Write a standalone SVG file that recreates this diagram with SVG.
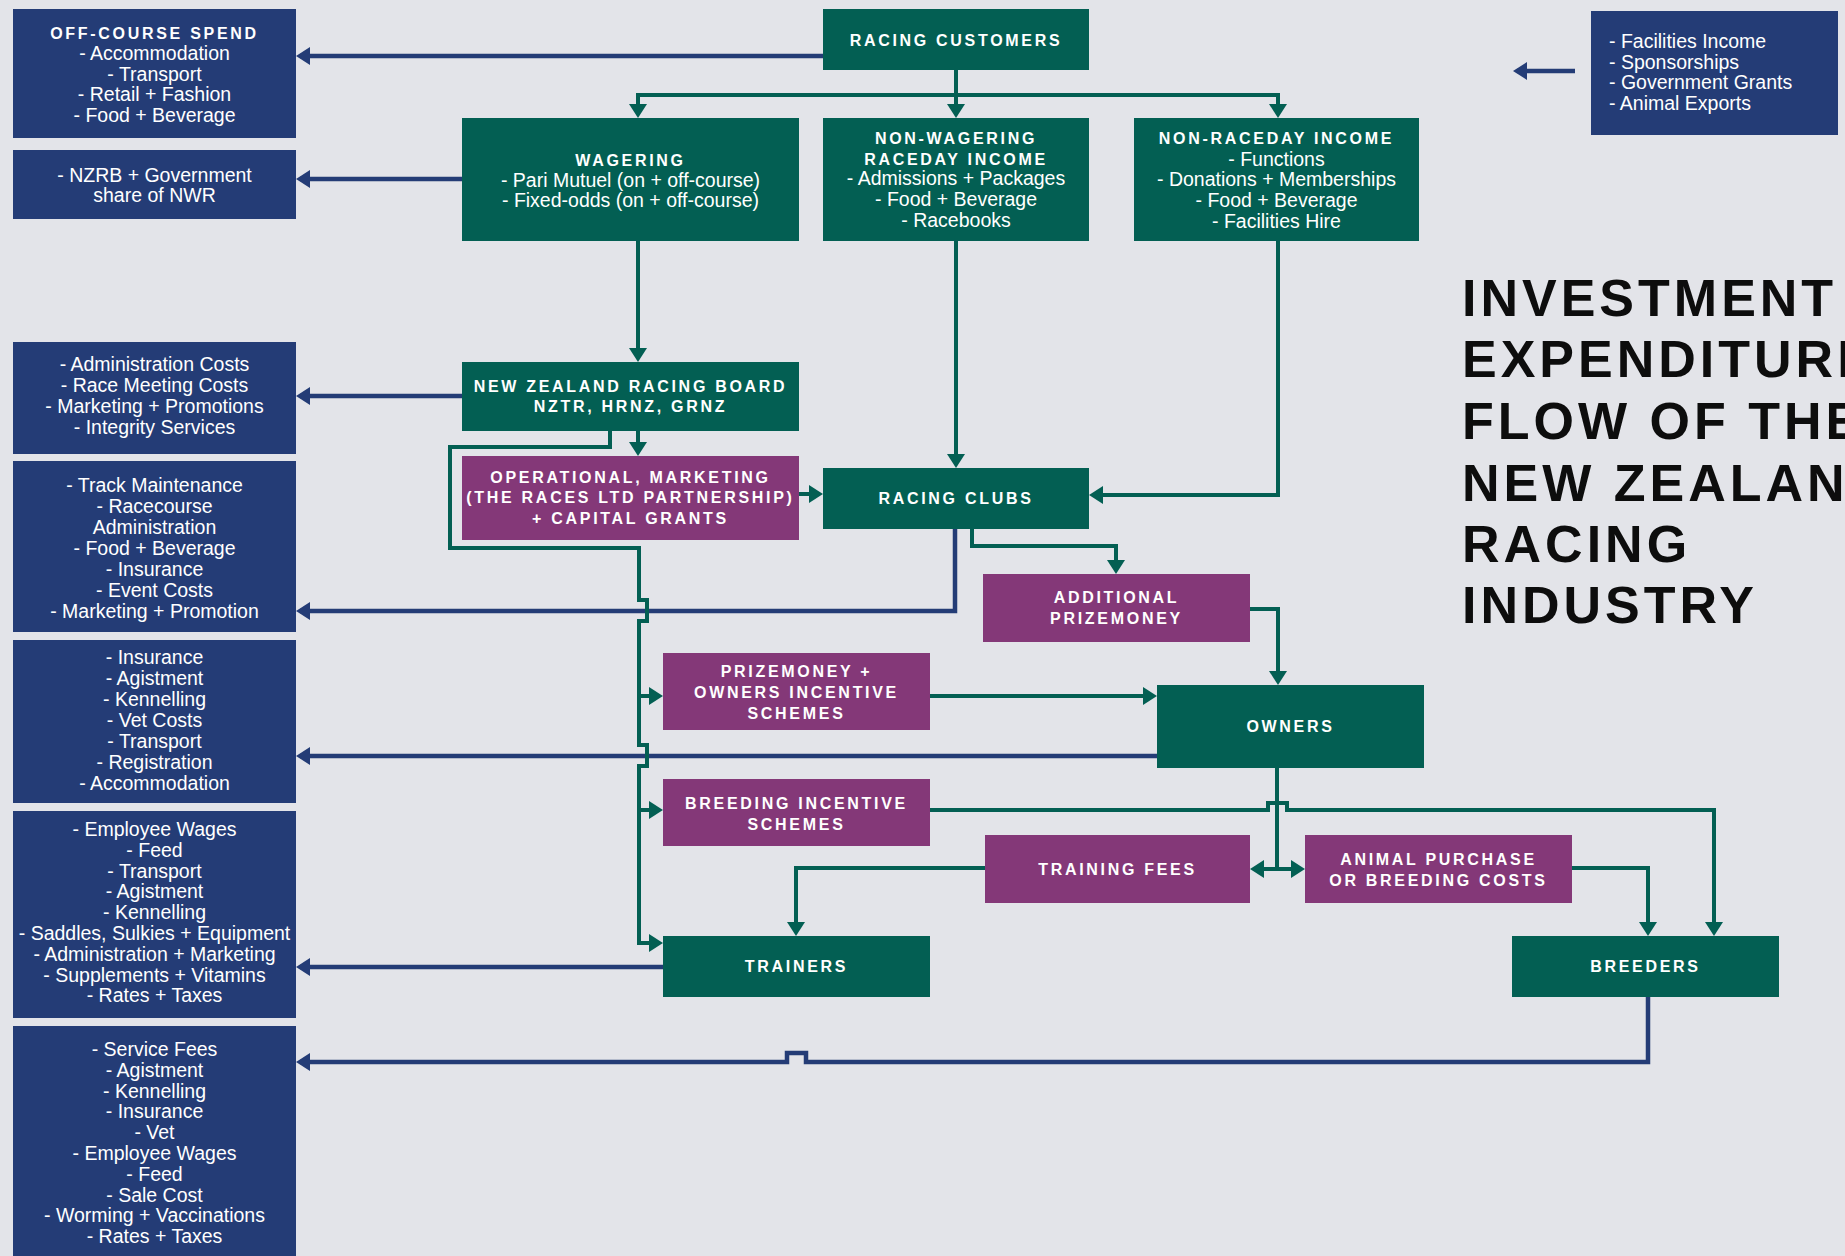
<svg xmlns="http://www.w3.org/2000/svg" width="1845" height="1256" viewBox="0 0 1845 1256">
<style>
.bg{fill:#e3e4e9}
.nv{fill:#243c76}
.gr{fill:#035f53}
.pu{fill:#843878}
.t{font-family:"Liberation Sans",Arial,sans-serif;fill:#ffffff;text-anchor:middle}
.h{font-weight:bold;font-size:16px;letter-spacing:2.7px}
.b{font-size:19.5px}
.l{text-anchor:start}
.title{font-family:"Liberation Sans",Arial,sans-serif;font-weight:bold;font-size:52px;letter-spacing:4px;fill:#0d0d0d}
.cn{fill:none;stroke:#243c76;stroke-width:4.5}
.cg{fill:none;stroke:#035f53;stroke-width:4}
.an{marker-end:url(#arrN)}
.ag{marker-end:url(#arrG)}
</style>
<defs>
<marker id="arrN" markerUnits="userSpaceOnUse" viewBox="0 0 14 18" refX="10" refY="9" markerWidth="14" markerHeight="18" orient="auto">
<path d="M0,0 L14,9 L0,18 z" fill="#243c76"/>
</marker>
<marker id="arrG" markerUnits="userSpaceOnUse" viewBox="0 0 14 18" refX="10" refY="9" markerWidth="14" markerHeight="18" orient="auto">
<path d="M0,0 L14,9 L0,18 z" fill="#035f53"/>
</marker>
</defs>
<rect class="bg" x="0" y="0" width="1845" height="1256"/>

<g id="connectors">
<path class="cn an" d="M823,56 H300"/>
<path class="cn an" d="M462,179 H300"/>
<path class="cn an" d="M462,396 H300"/>
<path class="cn an" d="M955,529 V611 H300"/>
<path class="cn an" d="M1157,756 H300"/>
<path class="cn an" d="M663,967 H300"/>
<path class="cn an" d="M1648,997 V1062 H806 V1053 H787 V1062 H300"/>
<path class="cn an" d="M1575,71 H1517"/>

<path class="cg ag" d="M956,70 V114"/>
<path class="cg ag" d="M956,95 H638 V114"/>
<path class="cg ag" d="M956,95 H1278 V114"/>
<path class="cg ag" d="M638,241 V358"/>
<path class="cg ag" d="M956,241 V464"/>
<path class="cg ag" d="M1278,241 V495 H1093"/>
<path class="cg ag" d="M638,431 V452"/>
<path class="cg ag" d="M799,494 H819"/>
<path class="cg ag" d="M610,431 V447 H450 V548 H639 V600 H647 V621 H639 V745 H647 V766 H639 V943 H659"/>
<path class="cg ag" d="M639,696 H659"/>
<path class="cg ag" d="M639,810 H659"/>
<path class="cg ag" d="M972,529 V546 H1116 V570"/>
<path class="cg ag" d="M1250,609 H1278 V681"/>
<path class="cg ag" d="M930,696 H1153"/>
<path class="cg ag" d="M930,810 H1268 V803 H1287 V810 H1714 V932"/>
<path class="cg" d="M1277,768 V869"/>
<path class="cg ag" d="M1277,869 H1254"/>
<path class="cg ag" d="M1277,869 H1301"/>
<path class="cg ag" d="M985,868 H796 V932"/>
<path class="cg ag" d="M1572,868 H1648 V932"/>
</g>

<g id="off-course-spend">
<rect class="nv" x="13" y="9" width="283" height="129"/>
<text class="t h" x="154.5" y="39">OFF-COURSE SPEND</text>
<text class="t b" x="154.5" y="60">- Accommodation</text>
<text class="t b" x="154.5" y="81">- Transport</text>
<text class="t b" x="154.5" y="101">- Retail + Fashion</text>
<text class="t b" x="154.5" y="122">- Food + Beverage</text>
</g>

<g id="nzrb-government-share">
<rect class="nv" x="13" y="150" width="283" height="69"/>
<text class="t b" x="154.5" y="182">- NZRB + Government</text>
<text class="t b" x="154.5" y="202">share of NWR</text>
</g>

<g id="board-costs">
<rect class="nv" x="13" y="342" width="283" height="112"/>
<text class="t b" x="154.5" y="371">- Administration Costs</text>
<text class="t b" x="154.5" y="392">- Race Meeting Costs</text>
<text class="t b" x="154.5" y="413">- Marketing + Promotions</text>
<text class="t b" x="154.5" y="434">- Integrity Services</text>
</g>

<g id="club-costs">
<rect class="nv" x="13" y="461" width="283" height="171"/>
<text class="t b" x="154.5" y="492">- Track Maintenance</text>
<text class="t b" x="154.5" y="513">- Racecourse</text>
<text class="t b" x="154.5" y="534">Administration</text>
<text class="t b" x="154.5" y="555">- Food + Beverage</text>
<text class="t b" x="154.5" y="576">- Insurance</text>
<text class="t b" x="154.5" y="597">- Event Costs</text>
<text class="t b" x="154.5" y="618">- Marketing + Promotion</text>
</g>

<g id="owner-costs">
<rect class="nv" x="13" y="640" width="283" height="163"/>
<text class="t b" x="154.5" y="664">- Insurance</text>
<text class="t b" x="154.5" y="685">- Agistment</text>
<text class="t b" x="154.5" y="706">- Kennelling</text>
<text class="t b" x="154.5" y="727">- Vet Costs</text>
<text class="t b" x="154.5" y="748">- Transport</text>
<text class="t b" x="154.5" y="769">- Registration</text>
<text class="t b" x="154.5" y="790">- Accommodation</text>
</g>

<g id="trainer-costs">
<rect class="nv" x="13" y="811" width="283" height="207"/>
<text class="t b" x="154.5" y="836">- Employee Wages</text>
<text class="t b" x="154.5" y="857">- Feed</text>
<text class="t b" x="154.5" y="878">- Transport</text>
<text class="t b" x="154.5" y="898">- Agistment</text>
<text class="t b" x="154.5" y="919">- Kennelling</text>
<text class="t b" x="154.5" y="940">- Saddles, Sulkies + Equipment</text>
<text class="t b" x="154.5" y="961">- Administration + Marketing</text>
<text class="t b" x="154.5" y="982">- Supplements + Vitamins</text>
<text class="t b" x="154.5" y="1002">- Rates + Taxes</text>
</g>

<g id="breeder-costs">
<rect class="nv" x="13" y="1026" width="283" height="240"/>
<text class="t b" x="154.5" y="1056">- Service Fees</text>
<text class="t b" x="154.5" y="1077">- Agistment</text>
<text class="t b" x="154.5" y="1098">- Kennelling</text>
<text class="t b" x="154.5" y="1118">- Insurance</text>
<text class="t b" x="154.5" y="1139">- Vet</text>
<text class="t b" x="154.5" y="1160">- Employee Wages</text>
<text class="t b" x="154.5" y="1181">- Feed</text>
<text class="t b" x="154.5" y="1202">- Sale Cost</text>
<text class="t b" x="154.5" y="1222">- Worming + Vaccinations</text>
<text class="t b" x="154.5" y="1243">- Rates + Taxes</text>
</g>

<g id="other-income">
<rect class="nv" x="1591" y="11" width="247" height="124"/>
<text class="t b l" x="1609" y="48">- Facilities Income</text>
<text class="t b l" x="1609" y="69">- Sponsorships</text>
<text class="t b l" x="1609" y="89">- Government Grants</text>
<text class="t b l" x="1609" y="110">- Animal Exports</text>
</g>

<g id="racing-customers">
<rect class="gr" x="823" y="9" width="266" height="61"/>
<text class="t h" x="956" y="46">RACING CUSTOMERS</text>
</g>

<g id="wagering">
<rect class="gr" x="462" y="118" width="337" height="123"/>
<text class="t h" x="630.5" y="166">WAGERING</text>
<text class="t b" x="630.5" y="187">- Pari Mutuel (on + off-course)</text>
<text class="t b" x="630.5" y="207">- Fixed-odds (on + off-course)</text>
</g>

<g id="non-wagering">
<rect class="gr" x="823" y="118" width="266" height="123"/>
<text class="t h" x="956" y="144">NON-WAGERING</text>
<text class="t h" x="956" y="165">RACEDAY INCOME</text>
<text class="t b" x="956" y="185">- Admissions + Packages</text>
<text class="t b" x="956" y="206">- Food + Beverage</text>
<text class="t b" x="956" y="227">- Racebooks</text>
</g>

<g id="non-raceday">
<rect class="gr" x="1134" y="118" width="285" height="123"/>
<text class="t h" x="1276.5" y="144">NON-RACEDAY INCOME</text>
<text class="t b" x="1276.5" y="166">- Functions</text>
<text class="t b" x="1276.5" y="186">- Donations + Memberships</text>
<text class="t b" x="1276.5" y="207">- Food + Beverage</text>
<text class="t b" x="1276.5" y="228">- Facilities Hire</text>
</g>

<g id="nzrb">
<rect class="gr" x="462" y="362" width="337" height="69"/>
<text class="t h" x="630.5" y="392">NEW ZEALAND RACING BOARD</text>
<text class="t h" x="630.5" y="412">NZTR, HRNZ, GRNZ</text>
</g>

<g id="operational">
<rect class="pu" x="462" y="456" width="337" height="84"/>
<text class="t h" x="630.5" y="483">OPERATIONAL, MARKETING</text>
<text class="t h" x="630.5" y="503">(THE RACES LTD PARTNERSHIP)</text>
<text class="t h" x="630.5" y="524">+ CAPITAL GRANTS</text>
</g>

<g id="racing-clubs">
<rect class="gr" x="823" y="468" width="266" height="61"/>
<text class="t h" x="956" y="504">RACING CLUBS</text>
</g>

<g id="additional-prizemoney">
<rect class="pu" x="983" y="574" width="267" height="68"/>
<text class="t h" x="1116.5" y="603">ADDITIONAL</text>
<text class="t h" x="1116.5" y="624">PRIZEMONEY</text>
</g>

<g id="prizemoney-owners-incentive">
<rect class="pu" x="663" y="653" width="267" height="77"/>
<text class="t h" x="796.5" y="677">PRIZEMONEY +</text>
<text class="t h" x="796.5" y="698">OWNERS INCENTIVE</text>
<text class="t h" x="796.5" y="719">SCHEMES</text>
</g>

<g id="owners">
<rect class="gr" x="1157" y="685" width="267" height="83"/>
<text class="t h" x="1290.5" y="732">OWNERS</text>
</g>

<g id="breeding-incentive">
<rect class="pu" x="663" y="779" width="267" height="67"/>
<text class="t h" x="796.5" y="809">BREEDING INCENTIVE</text>
<text class="t h" x="796.5" y="830">SCHEMES</text>
</g>

<g id="training-fees">
<rect class="pu" x="985" y="835" width="265" height="68"/>
<text class="t h" x="1117.5" y="875">TRAINING FEES</text>
</g>

<g id="animal-purchase">
<rect class="pu" x="1305" y="835" width="267" height="68"/>
<text class="t h" x="1438.5" y="865">ANIMAL PURCHASE</text>
<text class="t h" x="1438.5" y="886">OR BREEDING COSTS</text>
</g>

<g id="trainers">
<rect class="gr" x="663" y="936" width="267" height="61"/>
<text class="t h" x="796.5" y="972">TRAINERS</text>
</g>

<g id="breeders">
<rect class="gr" x="1512" y="936" width="267" height="61"/>
<text class="t h" x="1645.5" y="972">BREEDERS</text>
</g>

<g id="title">
<text class="title" x="1462" y="316">INVESTMENT</text>
<text class="title" x="1462" y="377">EXPENDITURE</text>
<text class="title" x="1462" y="439">FLOW OF THE</text>
<text class="title" x="1462" y="501">NEW ZEALAND</text>
<text class="title" x="1462" y="562">RACING</text>
<text class="title" x="1462" y="623">INDUSTRY</text>
</g>
</svg>
